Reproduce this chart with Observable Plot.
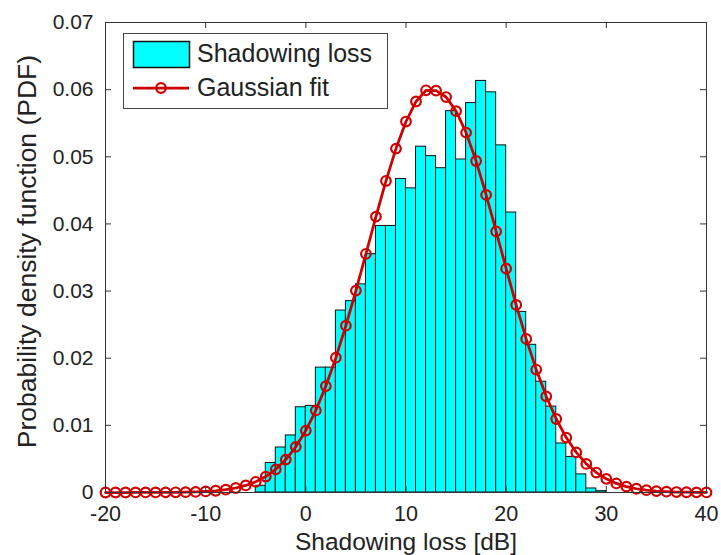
<!DOCTYPE html>
<html>
<head>
<meta charset="utf-8">
<script src="https://cdn.jsdelivr.net/npm/d3@7"></script>
<script src="https://cdn.jsdelivr.net/npm/@observablehq/plot@0.6"></script>
<style>
  html, body { margin: 0; padding: 0; background: #fff; }
  #chart { width: 721px; height: 555px; }
</style>
</head>
<body>
<div id="chart"></div>
<script>
// Histogram of shadowing loss: left edge of each 1 dB bin and its density
const binLeft = [-5, -4, -3, -2, -1, 0, 1, 2, 3, 4, 5, 6, 7, 8, 9, 10, 11, 12, 13, 14,
                 15, 16, 17, 18, 19, 20, 21, 22, 23, 24, 25, 26, 27, 28, 29];
const binDensity = [0.0010, 0.0044, 0.0067, 0.0085, 0.0127, 0.0129, 0.0186, 0.0186, 0.0271, 0.0285,
                    0.0310, 0.0355, 0.0397, 0.0397, 0.0467, 0.0453, 0.0515, 0.0501, 0.0483, 0.0568,
                    0.0496, 0.0580, 0.0613, 0.0596, 0.0517, 0.0417, 0.0269, 0.0220, 0.0165, 0.0128,
                    0.0073, 0.0053, 0.0027, 0.0006, 0.0002];

// Gaussian fit sampled every 1 dB
const fitX = [-20, -19, -18, -17, -16, -15, -14, -13, -12, -11, -10, -9, -8, -7, -6, -5, -4, -3, -2, -1,
              0, 1, 2, 3, 4, 5, 6, 7, 8, 9, 10, 11, 12, 13, 14, 15, 16, 17, 18, 19,
              20, 21, 22, 23, 24, 25, 26, 27, 28, 29, 30, 31, 32, 33, 34, 35, 36, 37, 38, 39, 40];
const fitPdf = [0, 0, 0, 0.00001, 0.00001, 0.00001, 0.00002, 0.00003, 0.00005, 0.00009,
                0.00016, 0.00026, 0.00042, 0.00067, 0.00105, 0.00159, 0.00237, 0.00345, 0.00490, 0.00680,
                0.00922, 0.01223, 0.01585, 0.02008, 0.02485, 0.03007, 0.03555, 0.04109, 0.04640, 0.05122,
                0.05525, 0.05824, 0.05990, 0.05985, 0.05890, 0.05680, 0.05360, 0.04937, 0.04432, 0.03889,
                0.03334, 0.02794, 0.02288, 0.01831, 0.01432, 0.01095, 0.00818, 0.00597, 0.00426, 0.00297,
                0.00203, 0.00135, 0.00088, 0.00056, 0.00035, 0.00021, 0.00013, 0.00007, 0.00004, 0.00002,
                0.00001];

const xTicks = [-20, -10, 0, 10, 20, 30, 40];
const yTicks = [0, 0.01, 0.02, 0.03, 0.04, 0.05, 0.06, 0.07];
const yTickLabels = ["0", "0.01", "0.02", "0.03", "0.04", "0.05", "0.06", "0.07"];

const xTitle = "Shadowing loss [dB]";
const yTitle = "Probability density function (PDF)";
const seriesNames = ["Shadowing loss", "Gaussian fit"];

const hist = binLeft.map((x0, i) => ({x0, x1: x0 + 1, pdf: binDensity[i]}));
const fit = fitX.map((x, i) => ({x, pdf: fitPdf[i]}));

const W = 721, H = 555;
const mL = 105, mR = 15, mT = 22, mB = 63;
const frameW = W - mL - mR, frameH = H - mT - mB;
const tickLen = 6;
const axisColor = "#333";
const red = "#d00000";
const cyan = "#00ffff";
const font = "'Liberation Sans', Arial, Helvetica, sans-serif";

const svg = Plot.plot({
  width: W, height: H,
  marginLeft: mL, marginRight: mR, marginTop: mT, marginBottom: mB,
  style: {fontFamily: font, color: "#222", background: "#fff"},
  x: {domain: [-20, 40]},
  y: {domain: [0, 0.07]},
  marks: [
    Plot.rectY(hist, {x1: "x0", x2: "x1", y: "pdf", fill: cyan, stroke: "#111", strokeWidth: 1}),
    Plot.line(fit, {x: "x", y: "pdf", stroke: red, strokeWidth: 2.75}),
    Plot.dot(fit, {x: "x", y: "pdf", r: 4.8, stroke: red, strokeWidth: 2.2, fill: "none"}),
    Plot.frame({stroke: axisColor, strokeWidth: 1}),
    // inward ticks on all four sides
    Plot.tickX(xTicks, {x: d => d, insetTop: frameH - tickLen, stroke: axisColor}),
    Plot.tickX(xTicks, {x: d => d, insetBottom: frameH - tickLen, stroke: axisColor}),
    Plot.tickY(yTicks, {y: d => d, insetRight: frameW - tickLen, stroke: axisColor}),
    Plot.tickY(yTicks, {y: d => d, insetLeft: frameW - tickLen, stroke: axisColor}),
    Plot.axisX(xTicks, {tickSize: 0, tickPadding: 13, fontSize: 21.5, label: null, tickFormat: d => String(d)}),
    Plot.axisY(yTicks, {tickSize: 0, tickPadding: 12, fontSize: 21, label: null,
      tickFormat: d => yTickLabels[yTicks.indexOf(d)]}),
    Plot.text([xTitle], {frameAnchor: "bottom", lineAnchor: "middle", textAnchor: "middle",
      dy: 50, fontSize: 24.5, fill: "#222"}),
    Plot.text([yTitle], {frameAnchor: "left", lineAnchor: "middle", textAnchor: "middle",
      rotate: -90, dx: -78, dy: -6, fontSize: 26.5, fill: "#222"})
  ]
});

// Legend box in the upper-left corner of the axes
const g = d3.select(svg).append("g")
  .attr("font-family", font).attr("font-size", 25).attr("fill", "#222").attr("text-anchor", "start");
g.append("rect").attr("x", 123.5).attr("y", 33.5).attr("width", 264).attr("height", 75)
  .attr("fill", "#fff").attr("stroke", "#444").attr("stroke-width", 1);
g.append("rect").attr("x", 133.5).attr("y", 41.5).attr("width", 56).attr("height", 26)
  .attr("fill", cyan).attr("stroke", "#111").attr("stroke-width", 1.5);
g.append("text").attr("x", 197).attr("y", 62).text(seriesNames[0]);
g.append("line").attr("x1", 133).attr("x2", 189).attr("y1", 88).attr("y2", 88)
  .attr("stroke", red).attr("stroke-width", 2.75);
g.append("circle").attr("cx", 161).attr("cy", 88).attr("r", 4.8)
  .attr("fill", "none").attr("stroke", red).attr("stroke-width", 2.2);
g.append("text").attr("x", 197).attr("y", 96).text(seriesNames[1]);

document.getElementById("chart").appendChild(svg);
</script>
</body>
</html>
